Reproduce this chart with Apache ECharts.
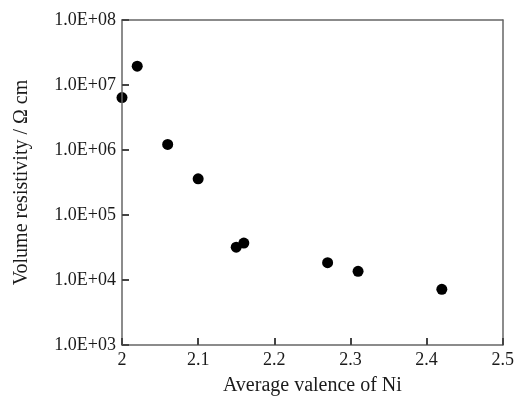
<!DOCTYPE html>
<html>
<head>
<meta charset="utf-8">
<script src="https://cdn.jsdelivr.net/npm/echarts@6/dist/echarts.min.js"></script>
<style>html,body{margin:0;padding:0;background:#fff;}#chart{width:517px;height:403px;}</style>
</head>
<body>
<div id="chart"></div>
<script>
const valence = [2.00, 2.02, 2.06, 2.10, 2.15, 2.16, 2.27, 2.31, 2.42];
const resistivity = [6.4e6, 1.95e7, 1.22e6, 3.6e5, 3.2e4, 3.7e4, 1.85e4, 1.36e4, 7.2e3];
const xTitle = 'Average valence of Ni';
const yTitle = 'Volume resistivity / \u03A9 cm';

const points = valence.map((v, i) => [v, resistivity[i]]);
const font = '"Liberation Serif", "DejaVu Serif", serif';
const axisColor = '#666666';
const textColor = '#1a1a1a';
const tickStyle = { show: true, inside: true, length: 7, lineStyle: { color: '#444444', width: 2 } };

const chart = echarts.init(document.getElementById('chart'));
chart.setOption({
  animation: false,
  backgroundColor: '#fff',
  grid: { left: 122, right: 12, top: 20, bottom: 58, show: false },
  xAxis: [{
    type: 'value', min: 2, max: 2.5, interval: 0.1, z: 10,
    name: xTitle, nameLocation: 'middle', nameGap: 31,
    nameTextStyle: { fontFamily: font, fontSize: 20, color: textColor },
    axisLine: { show: true, onZero: false, lineStyle: { color: axisColor, width: 1.5 } },
    axisTick: tickStyle,
    axisLabel: { fontFamily: font, fontSize: 18, color: textColor, margin: 6,
      formatter: v => String(Math.round(v * 10) / 10) },
    splitLine: { show: false }
  }, {
    type: 'value', min: 2, max: 2.5, interval: 0.1, position: 'top',
    axisLine: { show: true, onZero: false, lineStyle: { color: axisColor, width: 1.5 } },
    axisTick: { show: false }, axisLabel: { show: false }, splitLine: { show: false }
  }],
  yAxis: [{
    type: 'log', logBase: 10, min: 1e3, max: 1e8, z: 10,
    name: yTitle, nameLocation: 'middle', nameGap: 90,
    nameTextStyle: { fontFamily: font, fontSize: 20, color: textColor },
    axisLine: { show: true, onZero: false, lineStyle: { color: axisColor, width: 1.5 } },
    axisTick: tickStyle,
    axisLabel: { fontFamily: font, fontSize: 18, color: textColor, margin: 6,
      formatter: v => '1.0E+' + String(Math.round(Math.log10(v))).padStart(2, '0') },
    splitLine: { show: false },
    minorTick: { show: false }
  }, {
    type: 'log', logBase: 10, min: 1e3, max: 1e8, position: 'right',
    axisLine: { show: true, onZero: false, lineStyle: { color: axisColor, width: 1.5 } },
    axisTick: { show: false }, axisLabel: { show: false }, splitLine: { show: false }
  }],
  series: [{
    type: 'scatter',
    data: points,
    symbol: 'circle',
    symbolSize: 11,
    itemStyle: { color: '#000', opacity: 1 }
  }]
});
</script>
</body>
</html>
